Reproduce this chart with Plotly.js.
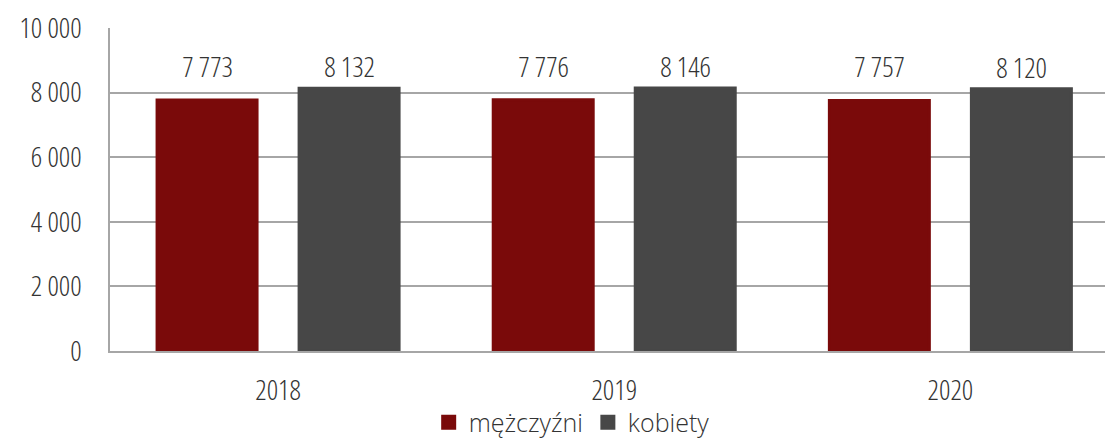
<!DOCTYPE html>
<html>
<head>
<meta charset="utf-8">
<script src="https://cdn.plot.ly/plotly-3.0.1.min.js"></script>
<style>
html,body{margin:0;padding:0;background:#fff;}
#chart{width:1105px;height:440px;}
#chart text{font-stretch:75%;}
#chart .legend text{font-stretch:100%;}
</style>
</head>
<body>
<div id="chart"></div>
<script>
const years = ['2018', '2019', '2020'];
const men = [7773, 7776, 7757];
const women = [8132, 8146, 8120];
const seriesNames = ['mężczyźni', 'kobiety'];
const yTicks = [0, 2000, 4000, 6000, 8000, 10000];

const colors = ['#7A0A0A', '#474747'];
const mkFont = (s) => ({family: 'Open Sans, sans-serif', size: s || 28, color: '#333333', weight: 300});

const traces = [men, women].map((vals, i) => ({
  type: 'bar', x: years, y: vals, name: seriesNames[i],
  marker: {color: colors[i], line: {width: 3, color: colors[i]}},
  hoverinfo: 'skip'
}));

const fmt = v => String(v).replace(/\B(?=(\d{3})+(?!\d))/g, ' ');
const shifts = [34, 22];
const annotations = [];
[men, women].forEach((vals, i) => {
  vals.forEach((v, j) => {
    annotations.push({
      x: j, y: v, xref: 'x', yref: 'y', text: fmt(v), showarrow: false,
      xshift: (i === 0 ? -1 : 1) * 71, yshift: shifts[i], font: mkFont()
    });
  });
});

const layout = {
  width: 1105, height: 440,
  margin: {l: 110, r: 0, t: 28, b: 89},
  paper_bgcolor: '#fff', plot_bgcolor: '#fff',
  separators: ', ',
  font: mkFont(),
  barmode: 'group', bargap: 0.155, bargroupgap: 0.296,
  showlegend: true,
  legend: {orientation: 'h', x: 0.464, xanchor: 'center', xref: 'paper', y: 0.04, yref: 'container', yanchor: 'middle',
           font: mkFont(25), traceorder: 'normal', bgcolor: 'rgba(0,0,0,0)'},
  xaxis: {
    type: 'category', range: [-0.5, 2.46], showgrid: false, showline: true, linecolor: '#A6A6A6', linewidth: 1.5,
    ticks: '', tickfont: mkFont(), ticklabelstandoff: 14, zeroline: false
  },
  yaxis: {
    range: [0, 10000], tickvals: yTicks, tickformat: ',.0f', showgrid: true, gridcolor: '#A6A6A6', gridwidth: 1.5,
    showline: true, linecolor: '#A6A6A6', linewidth: 1.5, zeroline: false, ticks: '', tickfont: mkFont(), ticklabelstandoff: 21
  },
  annotations: annotations
};

Plotly.newPlot('chart', traces, layout, {displayModeBar: false});
</script>
</body>
</html>
